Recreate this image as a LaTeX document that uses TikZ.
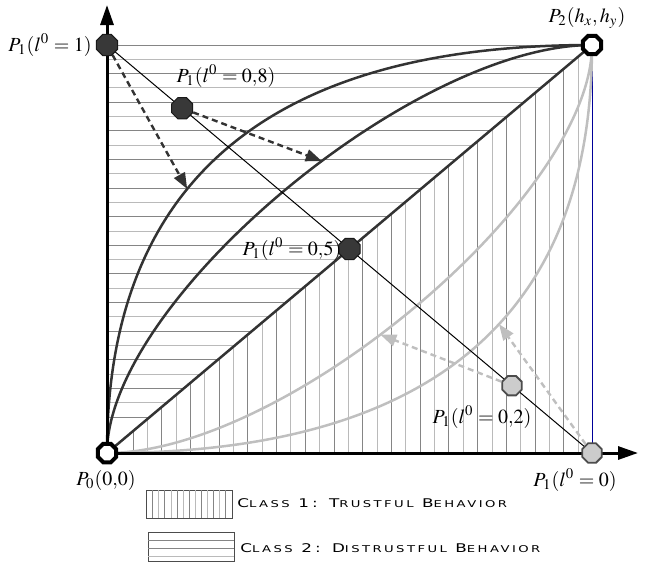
\documentclass[tikz,border=0pt]{standalone}
\usepackage{mathptmx}
\usepackage{fontspec}
\usepackage{tikz}
\usetikzlibrary{arrows.meta,shapes.geometric,positioning}

\newfontfamily\legfont[LetterSpace=26,FakeStretch=1.4]{DejaVu Sans}
\newcommand{\sm}[1]{{\fontsize{4.7}{5}\selectfont #1}}

\definecolor{curvedark}{HTML}{333333}
\definecolor{curvelight}{HTML}{BFBFBF}
\definecolor{hatchdark}{HTML}{858585}
\definecolor{hatchlight}{HTML}{BABABA}

\tikzset{
  octo/.style={regular polygon, regular polygon sides=8, inner sep=0pt},
  darkoct/.style={octo, minimum size=11.4pt, fill=black!78, draw=black!90, line width=0.5pt},
  openoct/.style={octo, minimum size=10pt, fill=white, draw=black, line width=2pt},
  grayoct/.style={octo, minimum size=10.5pt, fill=black!20, draw=black!70, line width=0.9pt},
  hatch/.style={line width=0.5pt},
  darkcurve/.style={curvedark, line width=1.25pt},
  lightcurve/.style={curvelight, line width=1.25pt},
  axis/.style={line width=1.5pt, -{Triangle[length=10pt,width=6.5pt]}},
  darkarrow/.style={curvedark, line width=1.2pt, dash pattern=on 3pt off 2pt, -{Triangle[length=8pt,width=6pt]}},
  lightarrow/.style={curvelight, line width=1.2pt, dash pattern=on 3pt off 2pt, -{Triangle[length=8pt,width=6pt]}},
  lab/.style={inner sep=0pt},
  legtxt/.style={inner sep=0pt, anchor=west, font=\legfont},
}

\begin{document}
\begin{tikzpicture}[x=0.5pt, y=-0.5pt]
    \useasboundingbox (0,0) rectangle (647,563);

    % Corners of the square
    \coordinate (orig) at (107,453);
    \coordinate (ptop) at (107,45);
    \coordinate (pfar) at (592,45);
    \coordinate (pright) at (592,453);
    \coordinate (yend) at (107,5);
    \coordinate (xend) at (638,453);

    % Class 2 hatching (above the diagonal)
    \begin{scope}
        \clip (orig) -- (107,42) -- (592,42) -- (pfar) -- cycle;
        \foreach \k in {0,...,26}{
            \pgfmathsetmacro\yy{45+14.31*\k}
            \ifodd\k \def\hc{hatchlight}\else \def\hc{hatchdark}\fi
            \draw[hatch, \hc] (107,\yy) -- (592,\yy);
        }
    \end{scope}

    % Class 1 hatching (below the diagonal)
    \begin{scope}
        \clip (orig) -- (pfar) -- (pright) -- cycle;
        \foreach \k in {0,...,31}{
            \pgfmathsetmacro\xx{133+14.36*\k}
            \ifodd\k \def\hc{hatchlight}\else \def\hc{hatchdark}\fi
            \draw[hatch, \hc] (\xx,453) -- (\xx,45);
        }
    \end{scope}
    \draw[blue!60!black, line width=0.5pt] (pfar) -- (pright);

    % Curves
    \draw[darkcurve] (orig) .. controls (107,181) and (269.5,45) .. (pfar) coordinate[pos=0.406] (tip1);
    \draw[darkcurve] (orig) .. controls (107,302) and (412.5,45) .. (pfar) coordinate[pos=0.565] (tip2);
    \draw[lightcurve] (orig) .. controls (286.5,453) and (592,196) .. (pfar) coordinate[pos=0.44] (tip3);
    \draw[lightcurve] (orig) .. controls (430.5,453) and (592,317) .. (pfar) coordinate[pos=0.562] (tip4);
    \draw[darkcurve] (orig) -- (pfar);

    % Axes
    \draw[axis] (orig) -- (yend);
    \draw[axis] (orig) -- (xend);

    % Points
    \draw[line width=0.5pt] (ptop) -- (pright)
        node[darkoct, pos=0.155] (l08) {}
        node[darkoct, pos=0.5] (l05) {}
        node[grayoct, pos=0.835] (l02) {};
    \node[darkoct] (l1) at (ptop) {};
    \node[openoct] (p2) at (pfar) {};
    \node[openoct] (p0) at (orig) {};
    \node[grayoct] (l0) at (pright) {};

    % Moves
    \draw[darkarrow] (l1) -- (tip1);
    \draw[darkarrow] (l08) -- (tip2);
    \draw[lightarrow] (l02) -- (tip3);
    \draw[lightarrow] (l0) -- (tip4);

    % Labels
    \node[lab] (lab1) at (50,45) {$P_1(l^0=1)$};
    \node[lab] (lab08) at (226,76) {$P_1(l^0=0{,}8)$};
    \node[lab] (lab05) at (292,249) {$P_1(l^0=0{,}5)$};
    \node[lab] (lab02) at (482,417) {$P_1(l^0=0{,}2)$};
    \node[lab] (lab0) at (575,480) {$P_1(l^0=0)$};
    \node[lab] (labp2) at (587,18) {$P_2(h_x,h_y)$};
    \node[lab] (labp0) at (106,480) {$P_0(0{,}0)$};

    % Legend
    \draw[black!70, line width=0.4pt] (146.7,490.3) rectangle (232.7,518);
    \foreach \k in {0,...,12}{
        \pgfmathsetmacro\xx{152.7+6.1*\k}
        \ifodd\k \def\hc{hatchlight}\else \def\hc{hatchdark}\fi
        \draw[hatch, \hc] (\xx,490.3) -- (\xx,518);
    }
    \draw[black!70, line width=0.4pt] (148.3,532.7) rectangle (234.3,561.3);
    \foreach \yy/\hc in {540.3/hatchdark, 548.5/hatchdark, 556.5/hatchlight}
        \draw[hatch, \hc] (148.3,\yy) -- (234.3,\yy);
    \node[legtxt] (cls1) at (237,503) {\fontsize{6}{6}\selectfont C\sm{LASS} 1: T\sm{RUSTFUL} B\sm{EHAVIOR}};
    \node[legtxt] (cls2) at (240,548) {\fontsize{6}{6}\selectfont C\sm{LASS} 2: D\sm{ISTRUSTFUL} B\sm{EHAVIOR}};
\end{tikzpicture}
\end{document}
